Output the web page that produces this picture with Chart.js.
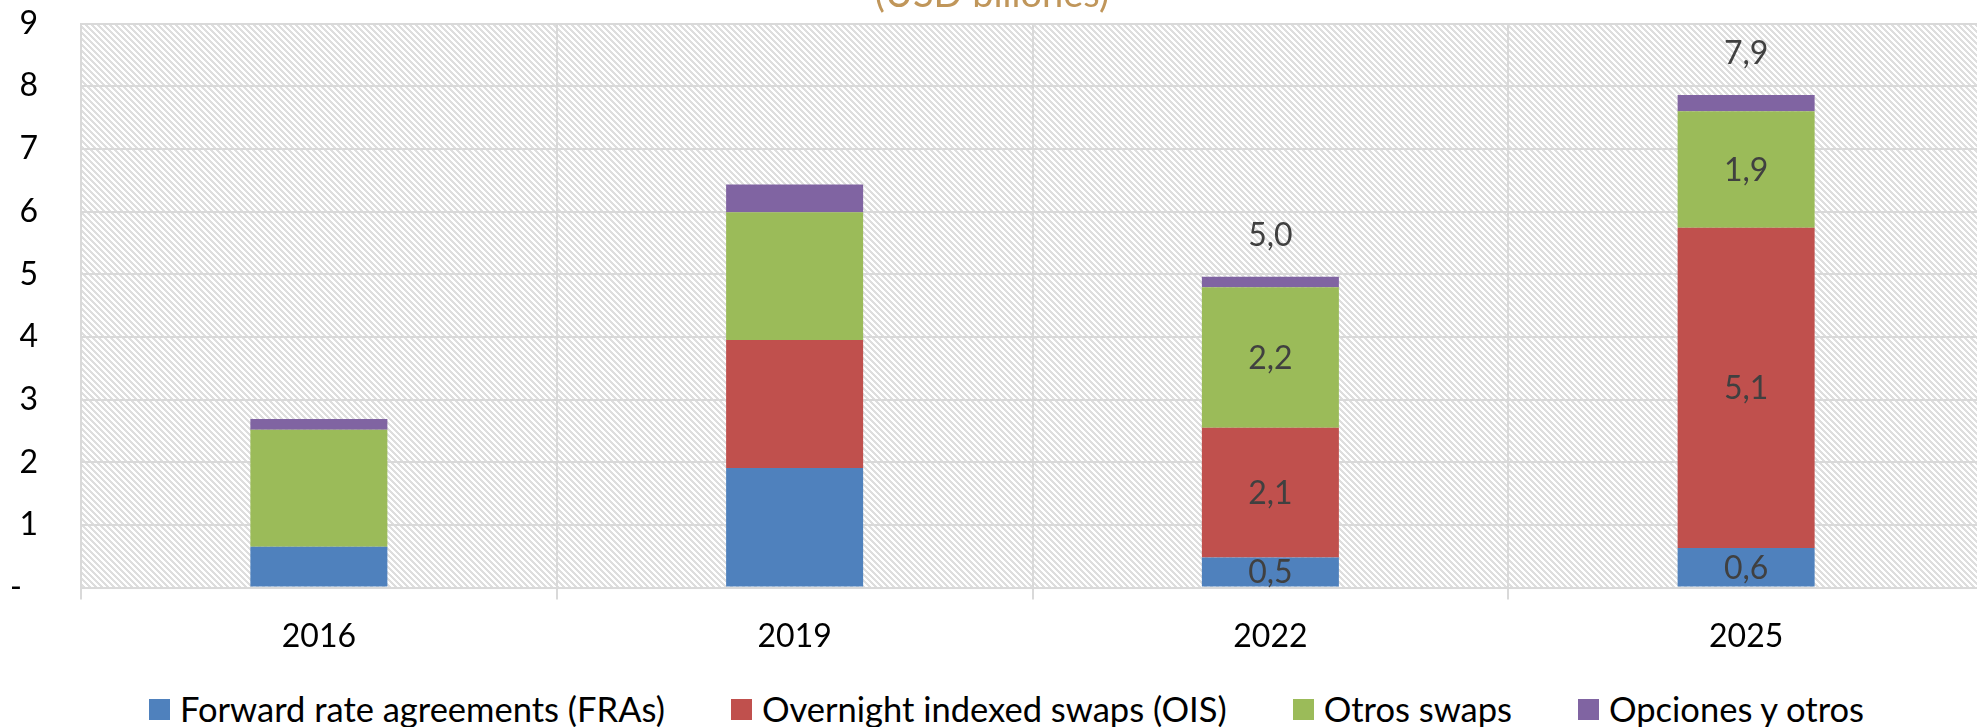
<!DOCTYPE html>
<html lang="es">
<head>
    <meta charset="UTF-8">
    <title>Derivados de tasa de interés</title>
    <script src="https://cdn.jsdelivr.net/npm/chart.js"></script>
    <style>
        html, body { margin: 0; padding: 0; background: #fff; }
        #frame { position: absolute; left: 0; top: 0; width: 1977px; height: 727px; overflow: hidden; }
        #box { position: absolute; left: 0; top: -30px; width: 1990px; height: 704px; }
        #legend { position: absolute; left: 0; top: 690px; width: 1977px; box-sizing: border-box; padding-left: 36px;
                  display: flex; justify-content: center; align-items: center; font-family: Lato, sans-serif; font-size: 34.5px; color: #000; line-height: 38px; }
        #legend .item { display: flex; align-items: center; margin: 0 33px; }
        #legend .sw { width: 21px; height: 21px; margin-right: 10px; }
    </style>
</head>
<body>
<div id="frame">
    <div id="box"><canvas id="chart"></canvas></div>
    <div id="legend"></div>
</div>
<script>
const years = ['2016', '2019', '2022', '2025'];
const fras = [0.65, 1.91, 0.48, 0.63];
const ois = [0, 2.04, 2.07, 5.11];
const otrosSwaps = [1.87, 2.04, 2.24, 1.86];
const opciones = [0.17, 0.44, 0.17, 0.26];
const seriesNames = ['Forward rate agreements (FRAs)', 'Overnight indexed swaps (OIS)', 'Otros swaps', 'Opciones y otros'];
const seriesColors = ['#4F81BD', '#C0504D', '#9BBB59', '#8064A2'];
const labelledYears = ['2022', '2025'];
const yTicks = [0, 1, 2, 3, 4, 5, 6, 7, 8, 9];

const fmt = v => v.toFixed(1).replace('.', ',');

// diagonal hatch behind the plot
const hatch = {
    id: 'hatch',
    beforeDraw(chart) {
        const { ctx, chartArea: a } = chart;
        if (!this.pat) {
            const c = document.createElement('canvas');
            c.width = 6; c.height = 6;
            const g = c.getContext('2d');
            g.fillStyle = '#fff';
            g.fillRect(0, 0, 6, 6);
            g.fillStyle = '#dedede';
            for (let y = 0; y < 6; y++)
                for (let x = 0; x < 6; x++)
                    if (((x - y) % 6 + 6) % 6 < 3) g.fillRect(x, y, 1, 1);
            this.pat = ctx.createPattern(c, 'repeat');
        }
        ctx.save();
        ctx.fillStyle = this.pat;
        ctx.fillRect(a.left, a.top, a.right - a.left, a.bottom - a.top);
        ctx.restore();
    }
};

const valueLabels = {
    id: 'valueLabels',
    afterDatasetsDraw(chart) {
        const ctx = chart.ctx;
        ctx.save();
        ctx.font = '32px Lato';
        ctx.fillStyle = '#404040';
        ctx.textAlign = 'center';
        ctx.textBaseline = 'middle';
        years.forEach((yr, j) => {
            if (!labelledYears.includes(yr)) return;
            let total = 0, topY = null;
            chart.data.datasets.forEach((ds, i) => {
                const bar = chart.getDatasetMeta(i).data[j];
                total += ds.data[j];
                topY = bar.y;
                if (i < 3) ctx.fillText(fmt(ds.data[j]), bar.x, (bar.y + bar.base) / 2 + 1);
            });
            const x = chart.getDatasetMeta(0).data[j].x;
            ctx.fillText(fmt(total), x, topY - 41);
        });
        ctx.restore();
    }
};

Chart.defaults.font.family = 'Lato';
Chart.defaults.font.size = 32;
Chart.defaults.color = '#000';

const ctx = document.getElementById('chart').getContext('2d');
new Chart(ctx, {
    type: 'bar',
    data: {
        labels: years,
        datasets: [fras, ois, otrosSwaps, opciones].map((d, i) => ({
            label: seriesNames[i],
            data: d,
            backgroundColor: seriesColors[i],
            borderWidth: 0,
            barPercentage: 0.288,
            categoryPercentage: 1
        }))
    },
    options: {
        responsive: true,
        maintainAspectRatio: false,
        animation: false,
        layout: { padding: { left: 0, right: 6, top: 0, bottom: 0 } },
        plugins: {
            legend: { display: false },
            tooltip: { enabled: false },
            title: {
                display: true,
                text: '(USD billones)',
                color: '#C0965A',
                font: { size: 38, weight: 'normal' },
                padding: { top: 2.4, bottom: 5.5 }
            }
        },
        scales: {
            x: {
                stacked: true,
                grid: { offset: true, color: '#d9d9d9', lineWidth: 2, tickLength: 12 },
                border: { color: '#d9d9d9', width: 2 },
                ticks: { padding: 18, color: '#000' }
            },
            y: {
                stacked: true,
                min: 0,
                max: 9,
                afterFit(s) { s.width = 81; },
                afterBuildTicks(s) { s.ticks = yTicks.map(v => ({ value: v })); },
                grid: { color: '#d9d9d9', lineWidth: 2, drawTicks: true, tickLength: 39, tickColor: 'rgba(0,0,0,0)' },
                border: { color: '#d9d9d9', width: 2 },
                ticks: {
                    padding: 4,
                    color: '#000',
                    callback: v => v === 0 ? '-\u2002' : String(v)
                }
            }
        }
    },
    plugins: [hatch, valueLabels]
});

const leg = document.getElementById('legend');
seriesNames.forEach((n, i) => {
    const it = document.createElement('div');
    it.className = 'item';
    const sw = document.createElement('span');
    sw.className = 'sw';
    sw.style.background = seriesColors[i];
    const t = document.createElement('span');
    t.textContent = n;
    it.appendChild(sw);
    it.appendChild(t);
    leg.appendChild(it);
});
</script>
</body>
</html>
